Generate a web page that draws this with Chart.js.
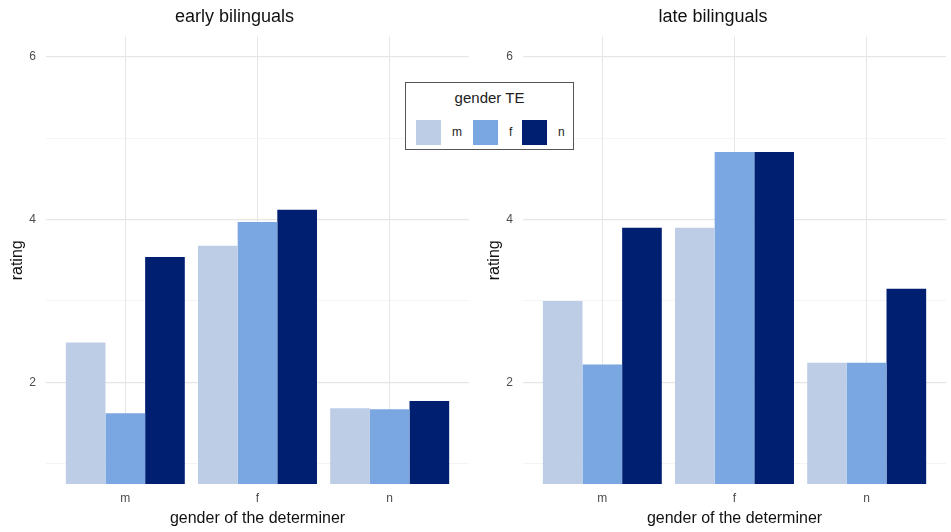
<!DOCTYPE html>
<html>
<head>
<meta charset="utf-8">
<script src="https://cdn.jsdelivr.net/npm/chart.js@4.4.1/dist/chart.umd.min.js"></script>
<style>
  body { margin: 0; background: #fff; font-family: "Liberation Sans", Arial, sans-serif; }
  #wrap { position: relative; width: 951px; height: 532px; }
  .panel { position: absolute; top: 0; height: 532px; }
  #legend {
    position: absolute; left: 405px; top: 82px; width: 167px; height: 66px;
    border: 1.5px solid #555; background: #fff; box-sizing: content-box;
  }
  #legend .ttl { position: absolute; left: 0; right: 0; top: 6px; text-align: center; font-size: 15px; color: #222; }
  #legend .sw { position: absolute; top: 37px; width: 25px; height: 25px; }
  #legend .lb { position: absolute; top: 42px; font-size: 12px; color: #222; }
</style>
</head>
<body>
<div id="wrap">
  <div class="panel" style="left:0;width:480px"><canvas id="early"></canvas></div>
  <div class="panel" style="left:480px;width:471px"><canvas id="late"></canvas></div>
  <div id="legend">
    <div class="ttl">gender TE</div>
  </div>
</div>
<script>
// gender of the determiner (x categories)
const determiners = ['m', 'f', 'n'];
// gender TE (series)
const genderTE = ['m', 'f', 'n'];
const colors = ['#bdcde6', '#7aa7e1', '#001f71'];

// mean ratings, one array per gender TE, ordered like determiners
const earlyM = [2.49, 3.68, 1.68];
const earlyF = [1.62, 3.97, 1.67];
const earlyN = [3.54, 4.12, 1.77];

const lateM = [3.00, 3.90, 2.24];
const lateF = [2.22, 4.83, 2.24];
const lateN = [3.90, 4.83, 3.15];

const yTicks = [2, 4, 6];

function makeChart(id, title, series, opts) {
  const datasets = series.map((vals, i) => ({
    label: genderTE[i],
    data: vals.map((v, k) => ({ x: k, y: v })),
    backgroundColor: colors[i],
    borderWidth: 0,
    categoryPercentage: 0.9,
    barPercentage: 1.0
  }));

  const canvas = document.getElementById(id);
  canvas.width = opts.width;
  canvas.height = 532;

  new Chart(canvas, {
    type: 'bar',
    data: { datasets: datasets },
    options: {
      responsive: false,
      animation: false,
      layout: { padding: { top: 0, left: 0, right: opts.rightPad, bottom: 0 } },
      plugins: {
        legend: { display: false },
        tooltip: { enabled: false },
        title: {
          display: true,
          text: title,
          color: '#111',
          font: { family: 'Liberation Sans', size: 18, weight: 'normal' },
          padding: { top: 6, bottom: 9 }
        }
      },
      scales: {
        x: {
          type: 'linear',
          min: -0.6,
          max: 2.6,
          offset: false,
          border: { display: false },
          grid: { color: '#e6e6e6', lineWidth: 1, drawTicks: false, offset: false },
          ticks: {
            stepSize: 1,
            includeBounds: false,
            padding: 7,
            color: '#4d4d4d',
            font: { family: 'Liberation Sans', size: 12 },
            callback: v => determiners[v]
          },
          title: {
            display: true,
            text: 'gender of the determiner',
            color: '#111',
            font: { family: 'Liberation Sans', size: 16 },
            padding: { top: 2, bottom: 4 }
          },
          afterFit: s => { s.height = 48; }
        },
        y: {
          min: 0.75,
          max: 6.25,
          border: { display: false },
          grid: {
            drawTicks: false,
            color: c => (yTicks.includes(c.tick.value) ? '#e6e6e6' : '#f1f1f1'),
            lineWidth: c => (yTicks.includes(c.tick.value) ? 1.2 : 0.8)
          },
          ticks: {
            stepSize: 1,
            includeBounds: false,
            padding: 10,
            color: '#4d4d4d',
            font: { family: 'Liberation Sans', size: 12 },
            callback: v => (yTicks.includes(v) ? String(v) : '')
          },
          title: {
            display: true,
            text: 'rating',
            color: '#111',
            font: { family: 'Liberation Sans', size: 16 },
            padding: { top: opts.titlePad, bottom: 0 }
          },
          afterFit: s => { s.width = opts.yWidth; }
        }
      }
    }
  });
}

makeChart('early', 'early bilinguals', [earlyM, earlyF, earlyN],
  { width: 480, rightPad: 11, yWidth: 46, titlePad: 8 });
makeChart('late', 'late bilinguals', [lateM, lateF, lateN],
  { width: 471, rightPad: 5, yWidth: 43, titlePad: 5 });

// legend box
const legend = document.getElementById('legend');
const swX = [10, 67, 116];
genderTE.forEach((g, i) => {
  const sw = document.createElement('div');
  sw.className = 'sw';
  sw.style.left = swX[i] + 'px';
  sw.style.background = colors[i];
  legend.appendChild(sw);
  const lb = document.createElement('div');
  lb.className = 'lb';
  lb.style.left = (swX[i] + 36) + 'px';
  lb.textContent = g;
  legend.appendChild(lb);
});
</script>
</body>
</html>
